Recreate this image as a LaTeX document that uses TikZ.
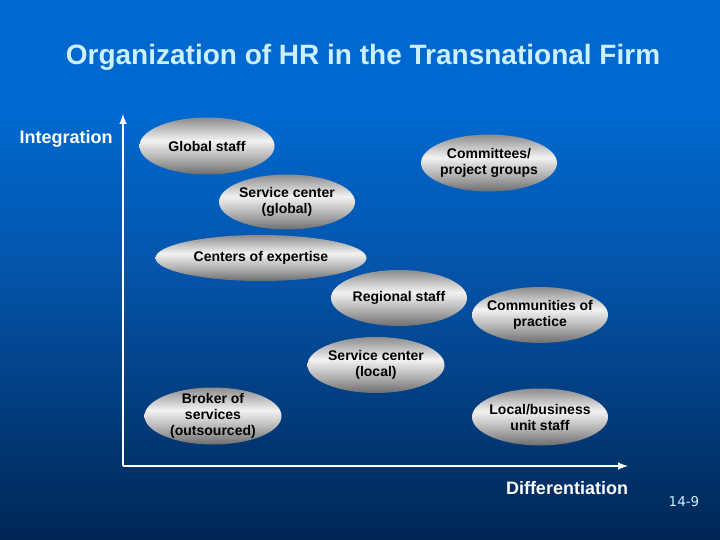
\documentclass[tikz,border=0pt]{standalone}
\usepackage{fontspec}
\setmainfont{Liberation Sans}
\newfontfamily\pagefont{DejaVu Sans}
\usepackage{tikz}
\usetikzlibrary{arrows, shapes.geometric}

\definecolor{slidetop}{RGB}{0,104,206}
\definecolor{slidemid}{RGB}{4,84,170}
\definecolor{slidebot}{RGB}{0,38,84}
\definecolor{titletext}{RGB}{204,240,255}
\definecolor{ovaltop}{RGB}{140,140,140}
\definecolor{ovallight}{RGB}{242,242,242}
\definecolor{ovalmid}{RGB}{180,180,180}
\definecolor{ovalbot}{RGB}{110,110,110}

\pgfdeclareverticalshading{slidebg}{100bp}{color(0bp)=(slidebot); color(25bp)=(slidebot);
  color(50bp)=(slidemid); color(64bp)=(slidetop); color(75bp)=(slidetop); color(100bp)=(slidetop)}
\pgfdeclareverticalshading{ovalgray}{100bp}{color(0bp)=(ovalbot); color(25bp)=(ovalbot);
  color(40bp)=(ovalmid); color(55bp)=(ovallight); color(75bp)=(ovaltop); color(100bp)=(ovaltop)}

\tikzset{every picture/.style={x=1pt,y=-1pt},
  oval/.style={ellipse, shading=ovalgray, minimum width=136pt, minimum height=56pt,
    inner sep=-20pt, align=center, font=\bfseries\fontsize{14}{16}\selectfont, text=black},
  axislabel/.style={font=\bfseries\fontsize{18}{20}\selectfont, text=white},
  axis/.style={draw=white, line width=2.4pt, -latex}}

\begin{document}
\begin{tikzpicture}
        \shade[shading=slidebg] (0, 0) rectangle (720, 540);

        \node[font=\bfseries\fontsize{28}{32}\selectfont, text=titletext] (title) at (363, 57) {Organization of HR in the Transnational Firm};
        \node[axislabel, anchor=west] (integ) at (16, 139) {Integration};
        \node[axislabel] (diff) at (567, 488) {Differentiation};
        \node[font=\pagefont\fontsize{13.5}{16}\selectfont, text=titletext] (pageno) at (684, 502) {14-9};

        \coordinate (origin) at (123, 466);
        \coordinate (ytop) at (123, 114);
        \coordinate (xend) at (628, 466);

        \node[oval, minimum width=135pt, minimum height=57pt] (gstaff) at (207, 146) {Global staff};
        \node[oval, minimum height=57pt] (committees) at (489, 163) {Committees/\\project groups};
        \node[oval, minimum height=55pt] (scglobal) at (287, 202) {Service center\\(global)};
        \node[oval, minimum width=211pt, minimum height=46pt] (expertise) at (261, 258) {Centers of expertise};
        \node[oval] (regional) at (399, 298) {Regional staff};
        \node[oval] (communities) at (540, 315) {Communities of\\practice};
        \node[oval, minimum width=137pt] (sclocal) at (376, 365) {Service center\\(local)};
        \node[oval, minimum width=137pt, minimum height=57pt] (broker) at (213, 416) {Broker of\\services\\(outsourced)};
        \node[oval, minimum height=57pt] (localbiz) at (540, 417) {Local/business\\unit staff};

        \foreach \to in {ytop, xend}
        \draw[axis] (origin) -- (\to);
      \end{tikzpicture}
\end{document}
